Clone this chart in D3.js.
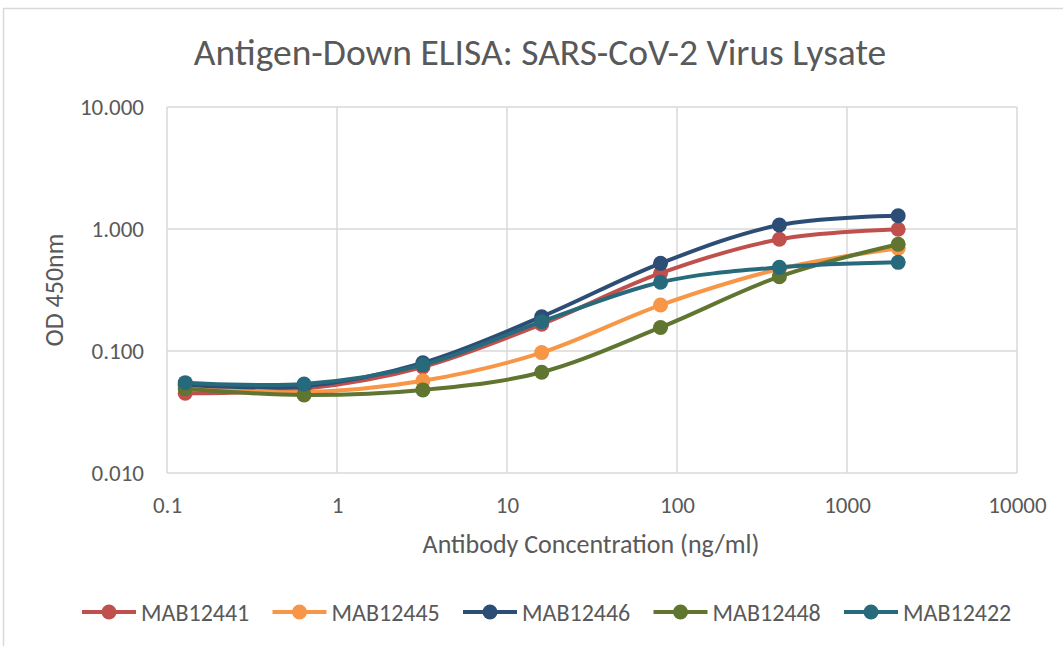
<!DOCTYPE html>
<html><head><meta charset="utf-8">
<script src="https://cdn.jsdelivr.net/npm/d3@7"></script>
<style>
html,body{margin:0;padding:0;background:#fff;}
text{font-family:Carlito,"Liberation Sans Narrow",Lato,sans-serif;fill:#595959;}
</style></head>
<body>
<svg id="chart" width="1063" height="646"></svg>
<script>
const concentrations = [0.128, 0.64, 3.2, 16, 80, 400, 2000];
const seriesNames = ["MAB12441", "MAB12445", "MAB12446", "MAB12448", "MAB12422"];
const mab12441 = [0.045, 0.049, 0.074, 0.166, 0.434, 0.823, 0.995];
const mab12445 = [0.051, 0.046, 0.057, 0.097, 0.238, 0.47, 0.695];
const mab12446 = [0.053, 0.0515, 0.080, 0.191, 0.523, 1.078, 1.285];
const mab12448 = [0.049, 0.0436, 0.048, 0.067, 0.156, 0.407, 0.749];
const mab12422 = [0.055, 0.0537, 0.077, 0.174, 0.366, 0.485, 0.533];
const seriesValues = [mab12441, mab12445, mab12446, mab12448, mab12422];
const seriesColors = ["#C0504D", "#F79646", "#2C4D75", "#5F7530", "#276A7C"];
const xTicks = [0.1, 1, 10, 100, 1000, 10000];
const xTickLabels = ["0.1", "1", "10", "100", "1000", "10000"];
const yTicks = [0.01, 0.1, 1, 10];
const yTickLabels = ["0.010", "0.100", "1.000", "10.000"];
const title = "Antigen-Down ELISA: SARS-CoV-2 Virus Lysate";
const xTitle = "Antibody Concentration (ng/ml)";
const yTitle = "OD 450nm";

const svg = d3.select("#chart");
const W = 1063, H = 646;
const m = {left: 167, right: 1017, top: 107, bottom: 473};

// outer chart border
svg.append("path").attr("d", `M3.5,${H} V8.5 H${W}`).attr("fill","none").attr("stroke","#D9D9D9").attr("stroke-width",1.5);

const x = d3.scaleLog().domain([0.1, 10000]).range([m.left, m.right]);
const y = d3.scaleLog().domain([0.01, 10]).range([m.bottom, m.top]);

// gridlines
const grid = svg.append("g");
grid.selectAll(".vg").data(xTicks).join("line")
  .attr("x1", d=>x(d)).attr("x2", d=>x(d)).attr("y1", m.top).attr("y2", m.bottom)
  .attr("stroke","#D9D9D9").attr("stroke-width",1.5);
grid.selectAll(".hg").data(yTicks).join("line")
  .attr("y1", d=>y(d)).attr("y2", d=>y(d)).attr("x1", m.left).attr("x2", m.right)
  .attr("stroke","#D9D9D9").attr("stroke-width",1.5);

// axes labels via d3 axes
const xAxis = d3.axisBottom(x).tickValues(xTicks).tickFormat((d,i)=>xTickLabels[i]).tickSize(0).tickPadding(24);
const gx = svg.append("g").attr("transform",`translate(0,${m.bottom})`).call(xAxis);
gx.select(".domain").remove();
gx.selectAll("text").attr("font-size",23).style("fill","#595959").style("font-family",null);

const yAxis = d3.axisLeft(y).tickValues(yTicks).tickFormat((d,i)=>yTickLabels[i]).tickSize(0).tickPadding(23);
const gy = svg.append("g").attr("transform",`translate(${m.left},0)`).call(yAxis);
gy.select(".domain").remove();
gy.selectAll("text").attr("font-size",23).style("fill","#595959").style("font-family",null);

// titles
svg.append("text").attr("x", 540).attr("y", 65).attr("text-anchor","middle").attr("font-size",37.5).text(title);
svg.append("text").attr("x", 591).attr("y", 553).attr("text-anchor","middle").attr("font-size",26).text(xTitle);
svg.append("text").attr("transform","translate(63,290) rotate(-90)").attr("text-anchor","middle").attr("font-size",26).text(yTitle);

// series
const line = d3.line().x(d=>x(d[0])).y(d=>y(d[1])).curve(d3.curveCatmullRom.alpha(0));
seriesValues.forEach((vals, i) => {
  const pts = concentrations.map((c, j) => [c, vals[j]]);
  const g = svg.append("g");
  g.append("path").attr("d", line(pts)).attr("fill","none").attr("stroke", seriesColors[i]).attr("stroke-width",4).attr("stroke-linejoin","round").attr("stroke-linecap","round");
  g.selectAll("circle").data(pts).join("circle").attr("cx", d=>x(d[0])).attr("cy", d=>y(d[1])).attr("r",7.5).attr("fill", seriesColors[i]);
});

// legend
const legY = 612;
const leg = svg.append("g");
seriesNames.forEach((name, i) => {
  const x0 = 82 + i * 190.5;
  leg.append("line").attr("x1", x0).attr("x2", x0+54).attr("y1", legY).attr("y2", legY).attr("stroke", seriesColors[i]).attr("stroke-width",4);
  leg.append("circle").attr("cx", x0+27).attr("cy", legY).attr("r",7.5).attr("fill", seriesColors[i]);
  leg.append("text").attr("x", x0+59).attr("y", legY+8.5).attr("font-size",24).text(name);
});
</script>
</body></html>
